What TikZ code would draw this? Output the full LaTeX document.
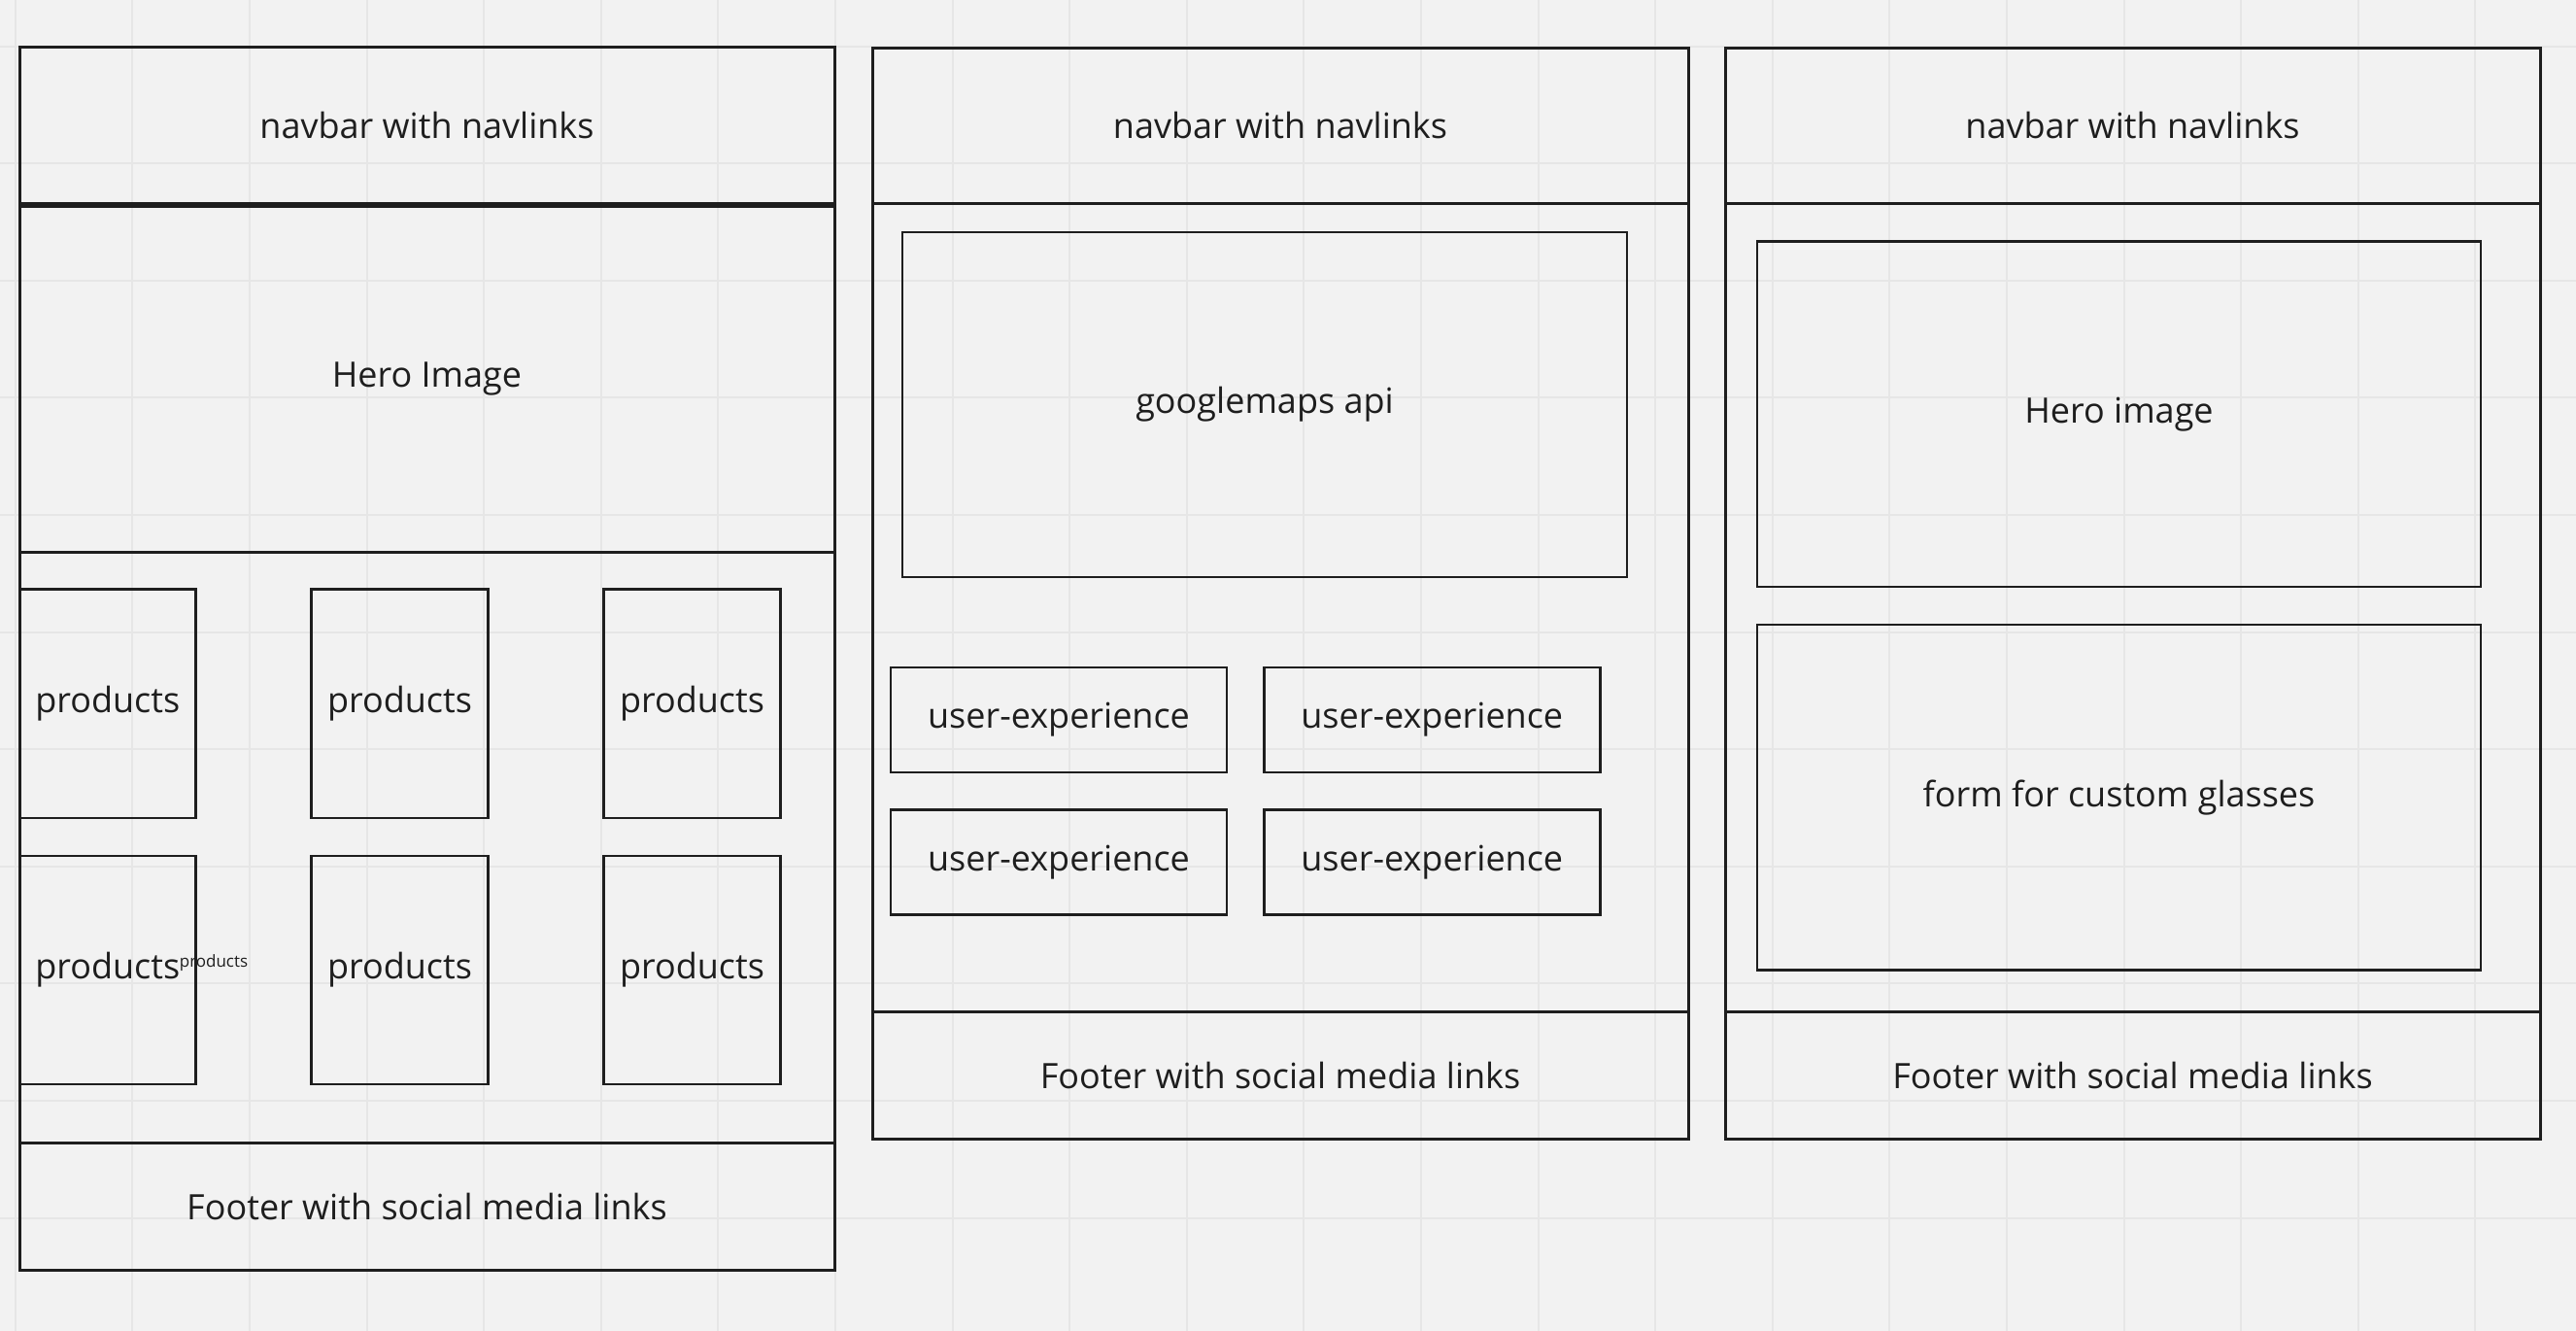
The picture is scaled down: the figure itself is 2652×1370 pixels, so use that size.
\documentclass[tikz,border=0pt]{standalone}
\usepackage{fontspec}
\setmainfont{Open Sans}
\definecolor{bgc}{HTML}{F2F2F2}
\definecolor{gridc}{HTML}{E6E6E6}
\definecolor{inkc}{HTML}{1E1E1E}
\begin{document}
\begin{tikzpicture}[x=1pt,y=-1pt,
  wbox/.style={draw=inkc,line width=2.6pt,rectangle,inner sep=0pt,text=inkc,
    font=\fontsize{36}{43}\selectfont},
  framebox/.style={wbox,line width=3pt},
  smalltxt/.style={inner sep=0pt,text=inkc,font=\fontsize{17}{20}\selectfont}]
\useasboundingbox (0,0) rectangle (2652,1370);
\fill[bgc] (0,0) rectangle (2652,1370);
% grid
\foreach \i in {0,...,21} {\draw[gridc,line width=2pt] (15.7+120.6*\i,0) -- (15.7+120.6*\i,1370);}
\foreach \j in {0,...,10} {\draw[gridc,line width=2pt] (0,47.6+120.6*\j) -- (2652,47.6+120.6*\j);}

% ---------- Panel 1 ----------
\node[framebox,minimum width=839,minimum height=160] (nav1) at (439.5,129) {navbar with navlinks};
\node[framebox,minimum width=839,minimum height=356] (hero1) at (439.5,390) {Hero Image};
\node[framebox,minimum width=839,minimum height=608] (body1) at (439.5,872) {};
\node[framebox,minimum width=839,minimum height=131] (foot1) at (439.5,1241.5) {Footer with social media links};
\node[wbox,minimum width=181.5,minimum height=235.5] (p11) at (110.75,724.25) {products};
\node[wbox,minimum width=181.5,minimum height=235.5] (p12) at (411.5,724.25) {products};
\node[wbox,minimum width=181.5,minimum height=235.5] (p13) at (712.5,724.25) {products};
\node[wbox,minimum width=181.5,minimum height=235] (p21) at (110.75,998.5) {products};
\node[wbox,minimum width=181.5,minimum height=235] (p22) at (411.5,998.5) {products};
\node[wbox,minimum width=181.5,minimum height=235] (p23) at (712.5,998.5) {products};
\node[smalltxt] (plabel) at (220,991) {products};

% ---------- Panel 2 ----------
\node[framebox,minimum width=840,minimum height=159.3] (nav2) at (1318,129.35) {navbar with navlinks};
\node[framebox,minimum width=840,minimum height=832.6] (body2) at (1318,625.3) {};
\node[framebox,minimum width=840,minimum height=130.8] (foot2) at (1318,1107) {Footer with social media links};
\node[wbox,minimum width=746,minimum height=355.2] (maps) at (1302,416.4) {googlemaps api};
\node[wbox,minimum width=346,minimum height=108] (ux1) at (1090,741) {user-experience};
\node[wbox,minimum width=346,minimum height=108] (ux2) at (1474.25,741) {user-experience};
\node[wbox,minimum width=346,minimum height=108] (ux3) at (1090,887.35) {user-experience};
\node[wbox,minimum width=346,minimum height=108] (ux4) at (1474.25,887.35) {user-experience};

% ---------- Panel 3 ----------
\node[framebox,minimum width=839,minimum height=159.3] (nav3) at (2195.5,129.35) {navbar with navlinks};
\node[framebox,minimum width=839,minimum height=832.6] (body3) at (2195.5,625.3) {};
\node[framebox,minimum width=839,minimum height=130.8] (foot3) at (2195.5,1107) {Footer with social media links};
\node[wbox,minimum width=745,minimum height=355.1] (heroimg) at (2181.5,426.25) {Hero image};
\node[wbox,minimum width=745,minimum height=355.9] (form) at (2181.5,820.75) {form for custom glasses};
\end{tikzpicture}
\end{document}
